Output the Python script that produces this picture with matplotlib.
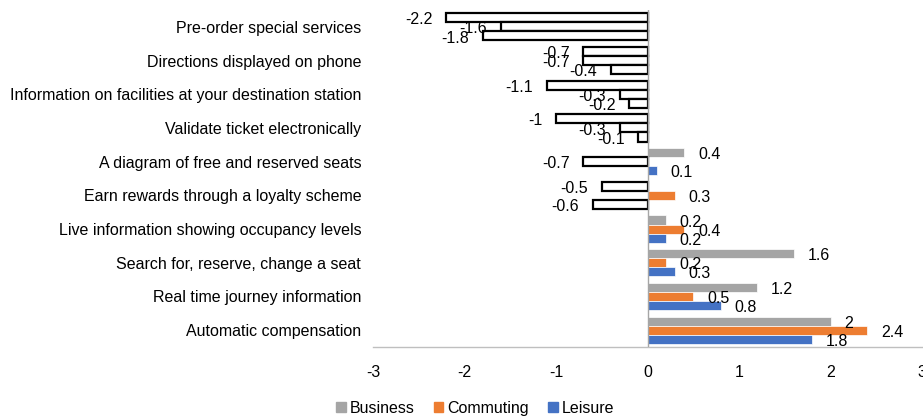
import matplotlib.pyplot as plt
from matplotlib.patches import Patch
import numpy as np

plt.rcParams['font.family'] = ['Liberation Sans', 'DejaVu Sans']
plt.rcParams['font.size'] = 11.5

# ---- data, top to bottom ----
categories = [
    'Pre-order special services',
    'Directions displayed on phone',
    'Information on facilities at your destination station',
    'Validate ticket electronically',
    'A diagram of free and reserved seats',
    'Earn rewards through a loyalty scheme',
    'Live information showing occupancy levels',
    'Search for, reserve, change a seat',
    'Real time journey information',
    'Automatic compensation',
]
business = [-2.2, -0.7, -1.1, -1.0, 0.4, -0.5, 0.2, 1.6, 1.2, 2.0]
commuting = [-1.6, -0.7, -0.3, -0.3, -0.7, 0.3, 0.4, 0.2, 0.5, 2.4]
leisure = [-1.8, -0.4, -0.2, -0.1, 0.1, -0.6, 0.2, 0.3, 0.8, 1.8]

series_names = ['Business', 'Commuting', 'Leisure']
series_colors = ['#A5A5A5', '#ED7D31', '#4472C4']
xticks = [-3, -2, -1, 0, 1, 2, 3]

fig = plt.figure(figsize=(9.23, 4.19), dpi=100)
ax = fig.add_axes([373 / 923, 72 / 419, 549 / 923, 337 / 419])

y = np.arange(len(categories))
bar_h = 0.27
offsets = [-bar_h, 0, bar_h]

for vals, col, off in zip([business, commuting, leisure], series_colors, offsets):
    vals = np.array(vals)
    neg = vals < 0
    # positive bars filled, negative bars drawn hollow with black outline
    ax.barh(y[~neg] + off, vals[~neg], height=bar_h, color=col,
            edgecolor='white', linewidth=0.5, zorder=2)
    ax.barh(y[neg] + off, vals[neg], height=bar_h, color='white',
            edgecolor='black', linewidth=1.6, zorder=2)
    for yi, v in zip(y + off, vals):
        lab = f'{v:g}'
        if v >= 0:
            ax.annotate(lab, (v, yi), xytext=(10, -1.5), textcoords='offset points',
                        ha='left', va='center', fontsize=11.5)
        else:
            ax.annotate(lab, (v, yi), xytext=(-10, -1.5), textcoords='offset points',
                        ha='right', va='center', fontsize=11.5)

ax.set_xlim(-3, 3)
ax.set_ylim(len(categories) - 0.5, -0.5)
ax.set_xticks(xticks)
ax.set_xticklabels([str(t) for t in xticks])
ax.set_yticks(y)
ax.set_yticklabels(categories)
ax.tick_params(axis='x', length=0, pad=13)
ax.tick_params(axis='y', length=0, pad=8.5)

for s in ['top', 'right', 'left']:
    ax.spines[s].set_visible(False)
ax.spines['bottom'].set_color('#BFBFBF')
ax.spines['bottom'].set_linewidth(1.0)
ax.axvline(0, color='#A6A6A6', linewidth=1.0, zorder=3)

handles = [Patch(facecolor=c, edgecolor=c) for c in series_colors]
fig.legend(handles, series_names, loc='center', bbox_to_anchor=(475 / 923, 11 / 419),
           ncol=3, frameon=False, handlelength=0.6, handleheight=0.6,
           handletextpad=0.25, columnspacing=1.2, fontsize=11.5)

fig.savefig('out.png', dpi=100)
